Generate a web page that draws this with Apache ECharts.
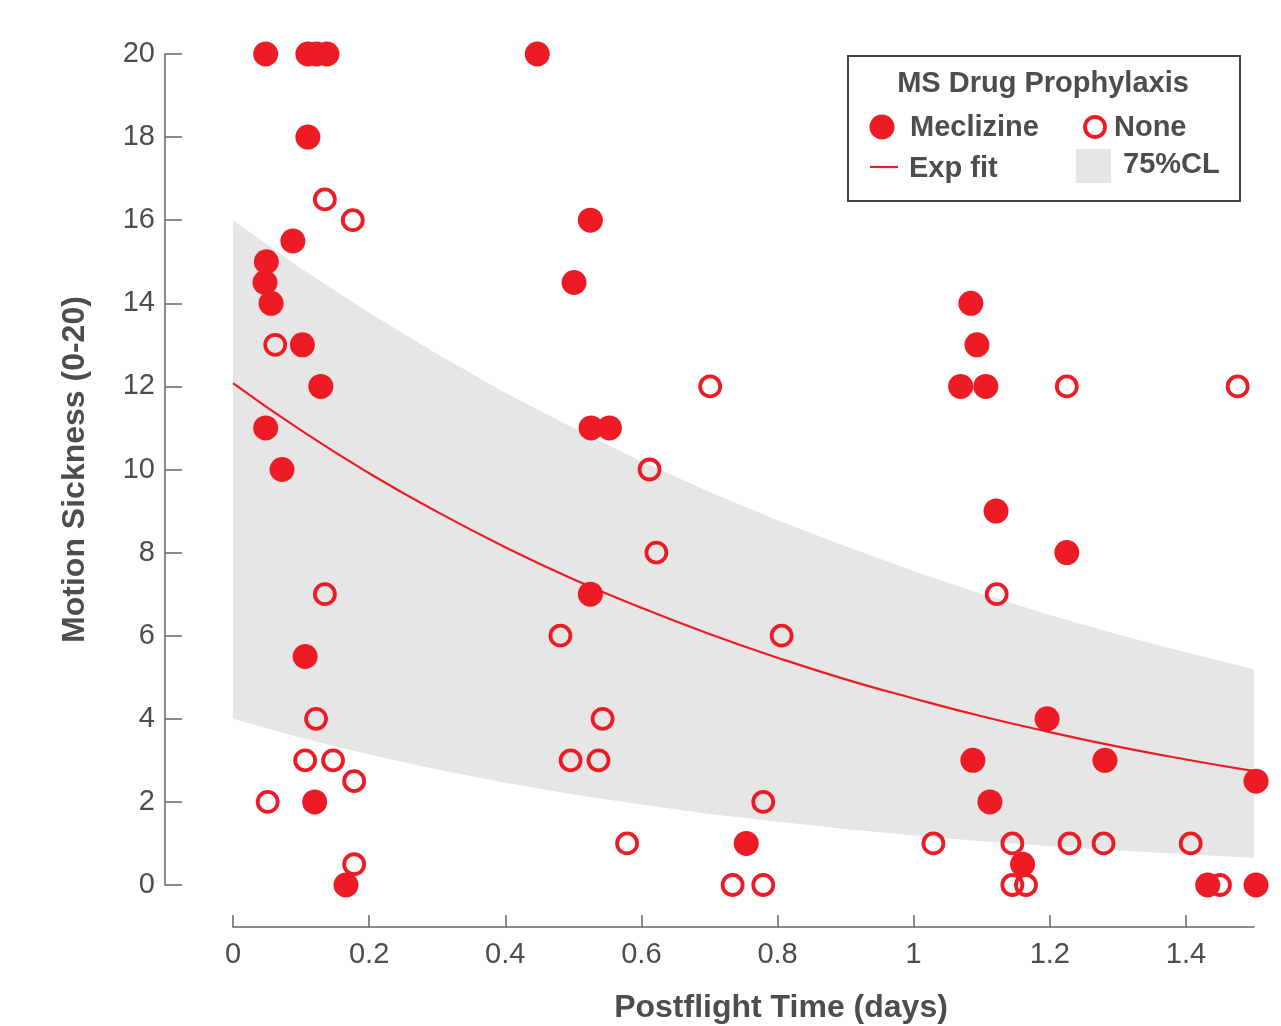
<!DOCTYPE html>
<html>
<head>
<meta charset="utf-8">
<script src="https://cdn.jsdelivr.net/npm/echarts@6/dist/echarts.min.js"></script>
<style>
html,body{margin:0;padding:0;background:#fff;}
#chart{width:1281px;height:1026px;}
</style>
</head>
<body>
<div id="chart"></div>
<script>
// ---- data ----
const meclizine = [
  [0.048,20],[0.110,20],[0.123,20],[0.138,20],[0.447,20],
  [0.110,18],[0.088,15.5],[0.049,15],[0.047,14.5],[0.056,14],
  [0.102,13],[0.129,12],[0.048,11],[0.072,10],
  [0.106,5.5],[0.120,2],[0.166,0],
  [0.525,16],[0.501,14.5],[0.526,11],[0.553,11],[0.525,7],
  [0.754,1],
  [1.084,14],[1.093,13],[1.069,12],[1.106,12],[1.121,9],[1.225,8],
  [1.196,4],[1.087,3],[1.112,2],[1.160,0.5],[1.281,3],
  [1.432,0],[1.503,0],[1.503,2.5]
];
const none = [
  [0.135,16.5],[0.176,16],[0.062,13],[0.135,7],[0.122,4],[0.106,3],[0.147,3],
  [0.178,2.5],[0.051,2],[0.178,0.5],
  [0.701,12],[0.612,10],[0.622,8],[0.481,6],[0.543,4],[0.496,3],[0.537,3],
  [0.579,1],[0.734,0],[0.779,0],[0.779,2],[0.806,6],
  [1.225,12],[1.476,12],[1.122,7],[1.029,1],[1.145,1],[1.229,1],[1.279,1],
  [1.407,1],[1.145,0],[1.165,0],[1.450,0]
];
const curveX   = [0,0.1,0.2,0.3,0.4,0.5,0.6,0.7,0.8,0.9,1.0,1.1,1.2,1.3,1.4,1.5];
const fitY     = [12.08,10.94,9.91,8.98,8.13,7.36,6.67,6.04,5.47,4.95,4.49,4.06,3.68,3.33,3.02,2.74];
const upperY   = [16.0,14.84,13.77,12.78,11.85,11.00,10.20,9.46,8.78,8.15,7.56,7.01,6.50,6.03,5.60,5.19];
const lowerY   = [4.0,3.54,3.14,2.78,2.46,2.18,1.94,1.71,1.52,1.35,1.19,1.05,0.94,0.83,0.74,0.65];
const xTicks   = [0,0.2,0.4,0.6,0.8,1.0,1.2,1.4];
const yTicks   = [0,2,4,6,8,10,12,14,16,18,20];

const RED = '#ed1c24';
const TXT = '#4d4d4d';
const AX = '#666666';
const FONT = '"Liberation Sans", Arial, sans-serif';

const chart = echarts.init(document.getElementById('chart'), null, {renderer:'canvas'});

const fitData = curveX.map((x,i)=>[x, fitY[i]]);
const bandData = [0];

const option = {
  animation:false,
  backgroundColor:'#ffffff',
  grid:{left:233, right:27, top:54, bottom:141, containLabel:false, outerBoundsMode:'none'},
  xAxis:{
    type:'value', min:0, max:1.5, interval:0.2, offset:42,
    splitLine:{show:false},
    axisLine:{show:true, onZero:false, lineStyle:{color:AX, width:1.5}},
    axisTick:{show:true, inside:true, length:12, lineStyle:{color:AX, width:1.5}, customValues:xTicks},
    axisLabel:{color:TXT, fontSize:29, fontFamily:FONT, margin:13, customValues:xTicks,
      formatter:v=>String(Math.round(v*10)/10)}
  },
  yAxis:{
    type:'value', min:0, max:20, interval:2, offset:68,
    splitLine:{show:false},
    axisLine:{show:true, onZero:false, lineStyle:{color:AX, width:1.5}},
    axisTick:{show:true, inside:true, length:17, lineStyle:{color:AX, width:1.5}, customValues:yTicks},
    axisLabel:{color:TXT, fontSize:29, fontFamily:FONT, margin:10, customValues:yTicks},
    name:'Motion Sickness (0-20)', nameLocation:'middle', nameGap:74, nameRotate:90,
    nameTextStyle:{color:TXT, fontSize:32, fontWeight:'bold', fontFamily:FONT}
  },
  series:[
    {
      type:'custom', name:'75%CL', data:bandData, silent:true, z:1,
      renderItem:function(params, api){
        const pts = [];
        for(let i=0;i<curveX.length;i++) pts.push(api.coord([curveX[i], upperY[i]]));
        for(let i=curveX.length-1;i>=0;i--) pts.push(api.coord([curveX[i], lowerY[i]]));
        return {type:'polygon', shape:{points:pts}, style:{fill:'#e6e6e6', stroke:null}};
      }
    },
    {
      type:'line', name:'Exp fit', data:fitData, smooth:true, symbol:'none', z:2,
      lineStyle:{color:RED, width:2.2}
    },
    {
      type:'scatter', name:'None', data:none, symbol:'circle', symbolSize:20, clip:false, z:3,
      itemStyle:{color:'rgba(0,0,0,0)', borderColor:RED, borderWidth:3.8, opacity:1}
    },
    {
      type:'scatter', name:'Meclizine', data:meclizine, symbol:'circle', symbolSize:25, clip:false, z:4,
      itemStyle:{color:RED, opacity:1}
    }
  ],
  graphic:[
    {type:'text', x:781, y:1008, style:{text:'Postflight Time (days)', fill:TXT, font:'bold 32px '+FONT, align:'center', verticalAlign:'middle'}, z:11},
    {type:'rect', left:847, top:55, shape:{width:392, height:145}, style:{fill:'#fff', stroke:'#444', lineWidth:2}, z:10},
    {type:'text', x:1043, y:84, style:{text:'MS Drug Prophylaxis', fill:TXT, font:'bold 29px '+FONT, align:'center', verticalAlign:'middle'}, z:11},
    {type:'circle', shape:{cx:882, cy:127, r:12.5}, style:{fill:RED}, z:11},
    {type:'text', x:910, y:128, style:{text:'Meclizine', fill:TXT, font:'bold 29px '+FONT, align:'left', verticalAlign:'middle'}, z:11},
    {type:'circle', shape:{cx:1095, cy:127, r:10}, style:{fill:'none', stroke:RED, lineWidth:3.8}, z:11},
    {type:'text', x:1114, y:128, style:{text:'None', fill:TXT, font:'bold 29px '+FONT, align:'left', verticalAlign:'middle'}, z:11},
    {type:'line', shape:{x1:870, y1:167, x2:898, y2:167}, style:{stroke:RED, lineWidth:2.2}, z:11},
    {type:'text', x:909, y:169, style:{text:'Exp fit', fill:TXT, font:'bold 29px '+FONT, align:'left', verticalAlign:'middle'}, z:11},
    {type:'rect', shape:{x:1076, y:149, width:35, height:34}, style:{fill:'#e6e6e6'}, z:11},
    {type:'text', x:1123, y:165, style:{text:'75%CL', fill:TXT, font:'bold 29px '+FONT, align:'left', verticalAlign:'middle'}, z:11}
  ]
};
chart.setOption(option);
</script>
</body>
</html>
